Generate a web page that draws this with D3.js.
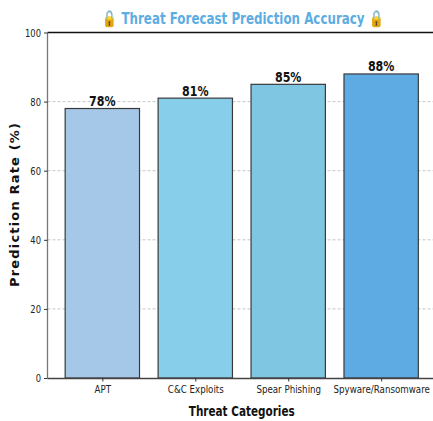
<!DOCTYPE html>
<html>
<head>
<meta charset="utf-8">
<script src="https://cdn.jsdelivr.net/npm/d3@7"></script>
<style>
  html, body { margin: 0; padding: 0; background: #fff; }
  text { font-family: "DejaVu Sans", sans-serif; }
</style>
</head>
<body>
<svg id="chart" width="433" height="421"></svg>
<script>
const categories = ["APT", "C&C Exploits", "Spear Phishing", "Spyware/Ransomware"];
const values = [78, 81, 85, 88];
const colors = ["#a6c8e8", "#87ceeb", "#7ec6e2", "#5dabe2"];
const yTicks = [0, 20, 40, 60, 80, 100];
const titleText = "\u{1F512} Threat Forecast Prediction Accuracy \u{1F512}";

const svg = d3.select("#chart");
const mLeft = 47.5, mRight = 436, mTop = 32.5, mBottom = 378;

// squeeze text horizontally to mimic the condensed look
function condense(sel, f) {
  sel.each(function () {
    const w = this.getComputedTextLength();
    d3.select(this).attr("textLength", w * f).attr("lengthAdjust", "spacingAndGlyphs");
  });
}

const x = d3.scaleLinear().domain([-0.59, 3.59]).range([mLeft, mRight]);
const y = d3.scaleLinear().domain([0, 100]).range([mBottom, mTop]);
const barW = x(0.8) - x(0);

// grid
svg.append("g").selectAll("line").data(yTicks.filter(d => d > 0 && d < 100)).join("line")
  .attr("x1", mLeft).attr("x2", mRight)
  .attr("y1", d => y(d)).attr("y2", d => y(d))
  .attr("stroke", "#b8b8b8").attr("stroke-width", 0.8)
  .attr("stroke-dasharray", "3,2");

// bars
svg.append("g").selectAll("rect").data(values).join("rect")
  .attr("x", (d, i) => x(i) - barW / 2)
  .attr("width", barW)
  .attr("y", d => y(d))
  .attr("height", d => y(0) - y(d))
  .attr("fill", (d, i) => colors[i])
  .attr("stroke", "#3a3a3a").attr("stroke-width", 1.2);

// bar labels
const barLabels = svg.append("g").selectAll("text").data(values).join("text")
  .attr("x", (d, i) => x(i))
  .attr("y", d => y(d) - 2.5)
  .attr("text-anchor", "middle")
  .attr("font-size", 13.5).attr("font-weight", "bold").attr("fill", "#111")
  .text(d => d + "%");
condense(barLabels, 0.82);

// spines
svg.append("line").attr("x1", mLeft).attr("x2", 433).attr("y1", mTop).attr("y2", mTop)
  .attr("stroke", "#111").attr("stroke-width", 1.3);
svg.append("line").attr("x1", mLeft).attr("x2", mLeft).attr("y1", mTop).attr("y2", mBottom)
  .attr("stroke", "#777").attr("stroke-width", 1.3);

// y axis
const yAxis = svg.append("g").attr("transform", `translate(${mLeft},0)`)
  .call(d3.axisLeft(y).tickValues(yTicks).tickSize(3.5).tickPadding(3));
yAxis.select(".domain").remove();
yAxis.selectAll(".tick line").attr("stroke", "#333");
yAxis.selectAll(".tick text").attr("font-size", 11).attr("fill", "#222")
  .attr("font-family", "\"DejaVu Sans\", sans-serif");
condense(yAxis.selectAll(".tick text"), 0.76);

// x axis
const xAxis = svg.append("g").attr("transform", `translate(0,${mBottom})`)
  .call(d3.axisBottom(x).tickValues(d3.range(categories.length)).tickFormat(i => categories[i]).tickSize(3.5).tickPadding(4));
xAxis.select(".domain").attr("stroke", "#444").attr("stroke-width", 1.3)
  .attr("d", `M${mLeft},0.5H433`);
xAxis.selectAll(".tick line").attr("stroke", "#333");
xAxis.selectAll(".tick text").attr("font-size", 11).attr("fill", "#222")
  .attr("font-family", "\"DejaVu Sans\", sans-serif");
condense(xAxis.selectAll(".tick text"), 0.79);

// axis titles
const xTitle = svg.append("text")
  .attr("x", (mLeft + mRight) / 2).attr("y", 416)
  .attr("text-anchor", "middle")
  .attr("font-size", 14.5).attr("font-weight", "bold").attr("fill", "#111")
  .text("Threat Categories");
condense(xTitle, 0.72);

svg.append("text")
  .attr("transform", `translate(19,${(123 + 287) / 2}) rotate(-90)`)
  .attr("text-anchor", "middle")
  .attr("font-size", 13).attr("font-weight", "bold").attr("fill", "#111")
  .attr("textLength", 164).attr("lengthAdjust", "spacing")
  .text("Prediction Rate (%)");

// title
const title = svg.append("text")
  .attr("x", 243).attr("y", 24)
  .attr("text-anchor", "middle")
  .attr("font-size", 16.5).attr("font-weight", "bold").attr("fill", "#5dade2")
  .text(titleText);
condense(title, 0.72);
</script>
</body>
</html>
